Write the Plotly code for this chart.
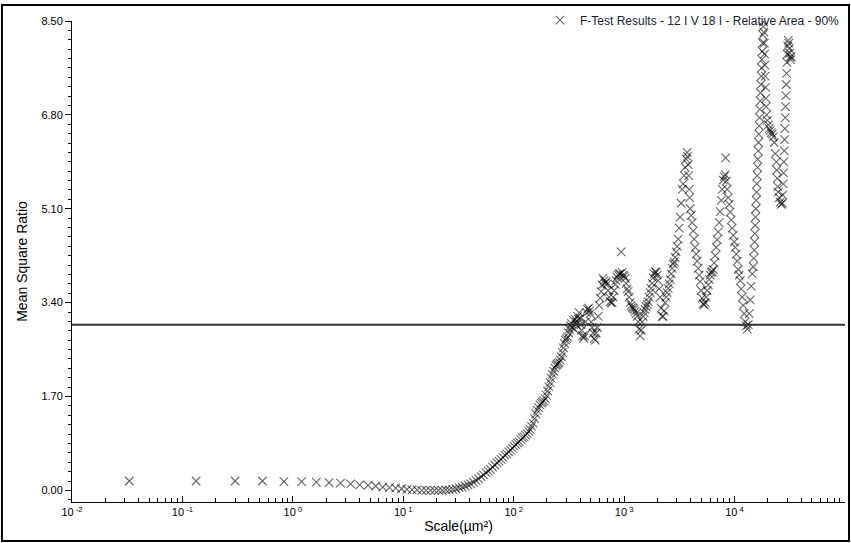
import plotly.graph_objects as go

# ---------------- data ----------------
scale_low = [0.033, 0.133, 0.30, 0.53, 0.83, 1.20, 1.63, 2.13, 2.70, 3.33, 4.03, 4.80, 5.63, 6.53,
             7.50, 8.53, 9.63, 10.8, 12.0, 13.3, 14.7, 16.1, 17.6, 19.2, 20.8, 22.5, 24.3, 26.1,
             28.0, 30.0, 32.0, 34.1, 36.3, 38.5, 40.8, 43.2, 45.6, 48.1, 50.7, 53.3, 56.0, 58.8,
             61.6, 64.5, 67.5, 70.5, 73.6, 76.8, 80.0, 83.3, 86.7, 90.1, 93.6, 97.2, 100.8]
ratio_low = [0.17, 0.17, 0.17, 0.17, 0.16, 0.16, 0.15, 0.14, 0.13, 0.12, 0.10, 0.09, 0.08, 0.06,
             0.05, 0.04, 0.03, 0.02, 0.01, 0.01, 0.00, 0.00, 0.00, 0.00, 0.00, 0.00, 0.01, 0.01,
             0.02, 0.03, 0.05, 0.06, 0.08, 0.10, 0.12, 0.15, 0.18, 0.21, 0.25, 0.28, 0.32, 0.35,
             0.38, 0.42, 0.46, 0.50, 0.53, 0.56, 0.60, 0.64, 0.66, 0.70, 0.73, 0.76, 0.80]

scale_mid = [104.6, 108.3, 112.2, 116.1, 120.0, 124.1, 128.2, 132.4, 136.6, 140.9, 145.2, 149.7,
             154.2, 158.8, 163.4, 168.1, 172.8, 177.7, 182.6, 187.6, 192.6, 197.7, 202.9, 208.1,
             213.4, 218.8, 224.2, 229.7, 235.3, 240.9, 246.6, 252.4, 258.2, 264.1, 270.1, 276.1,
             282.2, 288.4, 294.6, 300.9, 307.3, 313.7, 320.2, 326.8, 333.4, 340, 347, 354, 361, 368]
ratio_mid = [0.83, 0.86, 0.88, 0.92, 0.95, 0.97, 1.00, 1.03, 1.07, 1.10, 1.16, 1.22,
             1.30, 1.38, 1.45, 1.50, 1.55, 1.58, 1.60, 1.62, 1.66, 1.72, 1.80, 1.88,
             1.95, 2.03, 2.10, 2.16, 2.22, 2.26, 2.28, 2.30, 2.32, 2.36, 2.42, 2.50,
             2.58, 2.66, 2.72, 2.75, 2.78, 2.85, 2.92, 2.98, 3.02, 2.95, 3.08, 2.92, 3.10, 3.00]

scale_band1 = [370, 378, 385, 392, 400, 406, 412, 420, 429, 438, 447, 457, 466, 476, 486, 492,
               503, 513, 524, 535, 547, 558, 570, 582, 594, 606, 619, 632, 645, 659, 672, 686,
               701, 716, 731, 747, 762, 778, 795, 811, 829, 846, 864, 882, 901, 920, 939, 959,
               979, 1000, 1021, 1042, 1064, 1087, 1110, 1133, 1157, 1181, 1206, 1232, 1257,
               1284, 1311, 1339, 1367, 1396, 1425, 1455, 1486, 1517, 1549, 1582, 1615, 1649,
               1684, 1720, 1756, 1793, 1831, 1869, 1909, 1949, 1990, 2032, 2075, 2119, 2163,
               2209, 2256, 2303, 2352, 2401, 2452, 2504, 2557, 2611, 2666, 2722, 2780, 2838, 2898]
ratio_band1 = [3.05, 3.15, 3.10, 3.22, 3.12, 3.00, 2.90, 2.80, 2.76, 2.80, 3.05, 3.22, 3.28, 3.30,
               3.25, 3.20, 3.05, 2.95, 2.85, 2.75, 2.72, 2.85, 2.95, 3.15, 3.35, 3.48, 3.60, 3.72,
               3.84, 3.80, 3.75, 3.78, 3.74, 3.62, 3.50, 3.42, 3.40, 3.40, 3.50, 3.62, 3.73, 3.80,
               3.86, 3.90, 3.92, 3.92, 4.32, 3.95, 3.90, 3.88, 3.84, 3.75, 3.65, 3.60, 3.50, 3.40,
               3.35, 3.32, 3.30, 3.28, 3.24, 3.20, 3.15, 3.05, 2.92, 2.80, 2.90, 3.05, 3.15, 3.22,
               3.28, 3.33, 3.37, 3.42, 3.50, 3.58, 3.66, 3.75, 3.85, 3.92, 3.96, 3.95, 3.90, 3.80,
               3.65, 3.50, 3.30, 3.15, 3.15, 3.25, 3.40, 3.50, 3.58, 3.66, 3.74, 3.82, 3.92, 4.02,
               4.10, 4.14, 4.22]

scale_band2 = [2959, 3022, 3086, 3151, 3217, 3285, 3355, 3425, 3498, 3571, 3647, 3724, 3740, 3802,
               3840, 3882, 3920, 3963, 4047, 4132, 4219, 4308, 4399, 4492, 4587, 4683, 4782, 4883,
               4986, 5091, 5198, 5308, 5420, 5534, 5651, 5770, 5892, 6016, 6143, 6272, 6405, 6540,
               6678, 6819, 6963, 7110, 7259, 7412, 7569, 7728, 7891, 8057, 8227, 8300, 8401, 8578,
               8759, 8944, 9132, 9325, 9522, 9722, 9927, 10136, 10350, 10568, 10791, 11018, 11250,
               11488, 11730, 11977, 12230, 12487, 12751, 13020]
ratio_band2 = [4.32, 4.42, 4.55, 4.75, 4.95, 5.20, 5.45, 5.55, 5.70, 5.85, 6.00, 6.12, 6.05, 5.90,
               5.70, 5.45, 5.30, 5.10, 4.98, 4.85, 4.70, 4.55, 4.40, 4.28, 4.15, 4.02, 3.90, 3.78,
               3.62, 3.48, 3.38, 3.36, 3.40, 3.50, 3.62, 3.72, 3.82, 3.90, 3.95, 3.96, 4.00, 4.12,
               4.25, 4.40, 4.54, 4.68, 4.85, 5.05, 5.25, 5.45, 5.62, 5.68, 5.72, 6.02, 5.60, 5.45,
               5.30, 5.18, 5.04, 4.90, 4.75, 4.62, 4.50, 4.40, 4.28, 4.15, 4.00, 3.90, 3.80,
               3.65, 3.50, 3.35, 3.20, 3.05, 2.98, 2.92]

scale_band3 = [13290, 13570, 13860, 14150, 14450, 14750, 14900, 15070, 15150, 15250, 15385, 15480,
               15580, 15710, 15810, 15910, 16040, 16140, 16240, 16380, 16480, 16590, 16720, 16830,
               16940, 17080, 17180, 17290, 17440, 17550, 17660, 17810, 17920, 18030, 18190, 18300,
               18420, 18570, 18680, 18800, 18960, 19080, 19200, 19360, 19560, 19770, 20180, 20610,
               21040, 21480, 21940, 22400, 22870, 23350, 23840, 24100, 24340, 24600, 24850, 25380,
               25920, 26460, 27020, 27300, 27590, 27770, 27950, 28170, 28350, 28530, 28770, 28950,
               29130, 29380, 29560, 29750, 30000, 30320, 30630, 30950, 31280, 31610, 31940, 32280,
               32620]
ratio_band3 = [3.00, 3.20, 3.45, 3.70, 3.92, 4.05, 4.20, 4.35, 4.50, 4.65, 4.80, 4.95,
               5.10, 5.25, 5.40, 5.55, 5.70, 5.85, 6.00, 6.15, 6.30, 6.45, 6.60, 6.75,
               6.90, 7.05, 7.20, 7.35, 7.50, 7.65, 7.80, 7.95, 8.10, 8.25, 8.40, 8.48,
               8.30, 8.10, 7.90, 7.70, 7.50, 7.30, 7.10, 6.95, 6.80, 6.70, 6.62, 6.55,
               6.52, 6.48, 6.45, 6.40, 6.30, 6.10, 5.95, 5.80, 5.65, 5.50, 5.40, 5.30,
               5.22, 5.18, 5.20, 5.35, 5.55, 5.75, 5.95, 6.15, 6.35, 6.55, 6.75, 6.95,
               7.15, 7.35, 7.55, 7.75, 7.90, 8.05, 8.15, 8.10, 8.00, 7.92, 7.85, 7.80,
               7.85]

f_critical = 3.0
series_name = "F-Test Results - 12 I V 18 I - Relative Area - 90%"

x_tick_exponents = [-2, -1, 0, 1, 2, 3, 4, 5]
y_tick_values = [0.0, 1.7, 3.4, 5.1, 6.8, 8.5]

# ---------------- figure ----------------
scale_all = scale_low + scale_mid + scale_band1 + scale_band2 + scale_band3
ratio_all = ratio_low + ratio_mid + ratio_band1 + ratio_band2 + ratio_band3

FONT = "Arial, 'Liberation Sans', sans-serif"

fig = go.Figure()
fig.add_trace(go.Scatter(
    x=scale_all, y=ratio_all, mode="markers", name=series_name,
    marker=dict(symbol="x-thin-open", size=8.5, color="rgba(0,0,0,0.6)",
                line=dict(color="rgba(20,20,20,0.62)", width=1.1)),
    showlegend=True,
))

x_tickvals = [10.0 ** e for e in x_tick_exponents]
x_ticktext = ["10<sup> %d</sup>" % e for e in x_tick_exponents]
x_minor = [k * 10.0 ** e for e in x_tick_exponents[:-1] for k in range(2, 10)]

fig.update_xaxes(
    type="log", range=[-2, 5], showgrid=False, zeroline=False,
    showline=True, linecolor="black", linewidth=1, mirror=False,
    ticks="inside", ticklen=6, tickcolor="black", tickwidth=1,
    tickvals=x_tickvals, ticktext=x_ticktext,
    minor=dict(ticks="inside", ticklen=4, tickcolor="black", tickvals=x_minor, showgrid=False),
    tickfont=dict(family=FONT, size=11, color="black"),
    title=dict(text="Scale(µm²)", font=dict(family=FONT, size=14, color="black"), standoff=3),
    automargin=False,
)
fig.update_yaxes(
    range=[-0.21, 8.5], showgrid=False, zeroline=False,
    showline=True, linecolor="black", linewidth=1,
    ticks="outside", ticklen=6, tickcolor="black", tickwidth=1,
    tickvals=y_tick_values, ticktext=["%.2f" % v for v in y_tick_values],
    minor=dict(ticks="outside", ticklen=3, tickcolor="black", dtick=0.17, tick0=0, showgrid=False),
    tickfont=dict(family=FONT, size=11, color="black"),
    title=dict(text="Mean Square Ratio", font=dict(family=FONT, size=14, color="black"), standoff=10),
    automargin=False,
)

fig.add_shape(type="line", xref="paper", x0=0, x1=1, yref="y", y0=f_critical, y1=f_critical,
              line=dict(color="#333333", width=2), layer="above")

# outer frame of the picture
fig.add_shape(type="rect", xref="paper", yref="paper",
              x0=-0.0906, x1=1.0052, y0=-0.0812, y1=1.0331,
              line=dict(color="black", width=2), fillcolor="rgba(0,0,0,0)", layer="above")

fig.update_layout(
    width=851, height=543,
    margin=dict(l=72, r=6, t=18, b=41),
    paper_bgcolor="white", plot_bgcolor="white",
    font=dict(family=FONT, color="black"),
    legend=dict(x=1.0, xanchor="right", y=1.032, yanchor="top",
                bgcolor="rgba(0,0,0,0)", font=dict(family=FONT, size=12, color="#1c1c2e"),
                itemwidth=30),
)

fig.write_html("out.html")
